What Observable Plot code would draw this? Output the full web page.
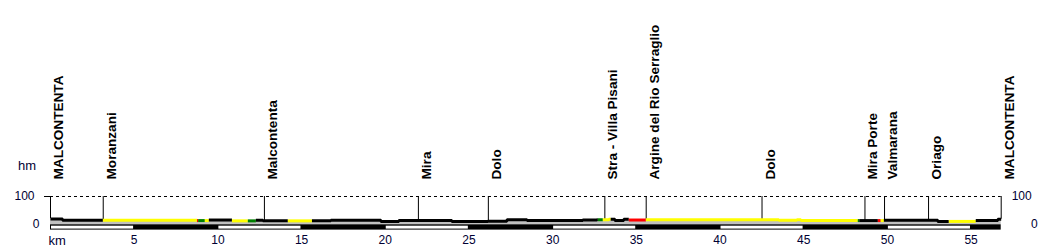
<!DOCTYPE html>
<html>
<head>
<meta charset="utf-8">
<script src="https://cdn.jsdelivr.net/npm/d3@7"></script>
<script src="https://cdn.jsdelivr.net/npm/@observablehq/plot@0.6"></script>
<style>
  html, body { margin: 0; padding: 0; background: #fff; }
  #chart { width: 1050px; height: 248px; }
</style>
</head>
<body>
<div id="chart"></div>
<script>
// ---- data ----
const totalKm = 56.8;
// elevation profile: each level starts at profKm[i] and lasts until the next break
const profKm   = [0, 0.72, 8.75, 9.46, 10.84, 12.27, 12.69, 16.75, 19.74, 20.81, 23.98, 26.13, 27.27, 28.47, 31.8, 32.64, 33.36, 33.72, 34.25, 34.55, 35.57, 43.51, 44.59, 44.83, 49.79, 53.01, 55.28, 56.6];
const profElev = [20, 15, 14, 16, 13, 15, 13, 15, 11, 14, 11, 12, 17, 14, 16, 17, 19, 14, 19, 16, 17, 15, 17, 14, 15, 11, 14, 19];
// coloured stretches of the profile line
const segStart = [0, 3.13, 8.75, 8.82, 9.22, 9.46, 10.84, 11.79, 12.27, 14.18, 15.62, 32.7, 33.0, 33.47, 34.55, 35.57, 48.23, 48.32, 49.43, 49.6, 49.79, 53.67, 55.28];
const segColor = ["black","yellow","red","green","yellow","black","yellow","green","black","yellow","black","green","yellow","black","red","yellow","green","black","red","yellow","black","yellow","black"];
// waypoints
const placeNames = ["MALCONTENTA","Moranzani","Malcontenta","Mira","Dolo","Stra - Villa Pisani","Argine del Rio Serraglio","Dolo","Mira Porte","Valmarana","Oriago","MALCONTENTA"];
const placeKm    = [0, 3.15, 12.78, 21.98, 26.16, 33.12, 35.59, 42.51, 48.66, 49.83, 52.46, 56.8];
// axis ticks
const xTicks = [5, 10, 15, 20, 25, 30, 35, 40, 45, 50, 55];
const yTickTop = [100];
const yTickBottom = [0];
const barStep = 5;

// ---- derived tables ----
function levelIndex(km) {
  let idx = 0;
  for (let i = 0; i < profKm.length; i++) if (profKm[i] <= km) idx = i;
  return idx;
}
const elevAt = km => profElev[levelIndex(km)];

const areaPts = [];
for (let i = 0; i < profKm.length; i++) {
  const a = profKm[i], b = i + 1 < profKm.length ? profKm[i + 1] : totalKm;
  areaPts.push({km: a, e: profElev[i]}, {km: b, e: profElev[i]});
}

const linePts = [];
segStart.forEach((a, s) => {
  const b = s + 1 < segStart.length ? segStart[s + 1] : totalKm;
  const col = segColor[s];
  linePts.push({seg: s, col, km: a, e: elevAt(a)});
  for (let i = 1; i < profKm.length; i++) {
    const k = profKm[i];
    if (k > a && k < b) {
      linePts.push({seg: s, col, km: k, e: profElev[i - 1]});
      linePts.push({seg: s, col, km: k, e: profElev[i]});
    }
  }
  linePts.push({seg: s, col, km: b, e: elevAt(b - 1e-6)});
});

const bars = [];
for (let k = 0, j = 0; k < totalKm; k += barStep, j++) {
  bars.push({x1: k, x2: Math.min(k + barStep, totalKm), white: j % 2 === 0});
}

const places = placeNames.map((name, i) => ({name, km: placeKm[i], e: elevAt(Math.min(placeKm[i], totalKm - 1e-6))}));

const tickColor = "#000033";
const font = "Liberation Sans, Arial, sans-serif";

const chart = Plot.plot({
  width: 1050,
  height: 248,
  marginLeft: 50,
  marginRight: 49.3,
  marginTop: 196,
  marginBottom: 18.4,
  x: {domain: [0, totalKm], axis: null},
  y: {domain: [-20, 100], axis: null},
  color: {type: "identity"},
  style: {background: "white", fontFamily: font, overflow: "visible"},
  marks: [
    // dashed 100 m line and its tick
    Plot.ruleY(yTickTop, {x1: 0, x2: totalKm, stroke: "black", strokeWidth: 1, strokeDasharray: "3,3"}),
    Plot.ruleY(yTickTop, {x1: 0, x2: 0, insetLeft: -6, stroke: "black", strokeWidth: 1}),
    // waypoint rules
    Plot.ruleX(places, {x: "km", y1: "e", y2: 100, stroke: "black", strokeWidth: 1}),
    // grey fill under the profile
    Plot.areaY(areaPts, {x: "km", y1: -1, y2: "e", fill: "#c0c0c0"}),
    // km bar
    Plot.rect([0], {x1: 0, x2: totalKm, y1: -1, y2: -20, fill: "black"}),
    Plot.rect(bars.filter(d => d.white), {x1: "x1", x2: "x2", y1: -1, y2: -20, fill: "white", insetTop: 1.4, insetBottom: 1, insetLeft: 1, insetRight: 0.6}),
    // profile line
    Plot.line(linePts, {x: "km", y: "e", z: "seg", stroke: "col", strokeWidth: 3, strokeLinecap: "butt", strokeLinejoin: "miter", curve: "linear"}),
    // waypoint labels
    Plot.text(places, {x: "km", y: 100, text: "name", rotate: -90, textAnchor: "start", lineAnchor: "bottom", dx: 12.5, dy: -17, fontSize: 13.6, fontWeight: "bold", fill: "black"}),
    // x tick labels
    Plot.text(xTicks, {x: d => d, y: -20, text: d => String(d), dy: 10.5, lineAnchor: "middle", fontSize: 12, fill: tickColor}),
    Plot.text(["km"], {x: 0, y: -20, text: d => d, textAnchor: "start", dx: -2, dy: 10.5, lineAnchor: "middle", fontSize: 13, fill: tickColor}),
    // y tick labels (left)
    Plot.text(yTickTop, {x: 0, y: d => d, text: d => String(d), textAnchor: "end", dx: -16, lineAnchor: "middle", fontSize: 12, fill: tickColor}),
    Plot.text(yTickBottom, {x: 0, y: d => d, text: d => String(d), textAnchor: "end", dx: -11, lineAnchor: "middle", fontSize: 12, fill: tickColor}),
    // y tick labels (right)
    Plot.text(yTickTop, {x: totalKm, y: d => d, text: d => String(d), textAnchor: "end", dx: 30.5, lineAnchor: "middle", fontSize: 12, fill: tickColor}),
    Plot.text(yTickBottom, {x: totalKm, y: d => d, text: d => String(d), textAnchor: "end", dx: 36.5, lineAnchor: "middle", fontSize: 12, fill: tickColor}),
    // unit label
    Plot.text(["hm"], {x: 0, y: 100, text: d => d, textAnchor: "middle", dx: -23.5, dy: -31, lineAnchor: "middle", fontSize: 13, fill: tickColor})
  ]
});
document.getElementById("chart").appendChild(chart);
</script>
</body>
</html>
